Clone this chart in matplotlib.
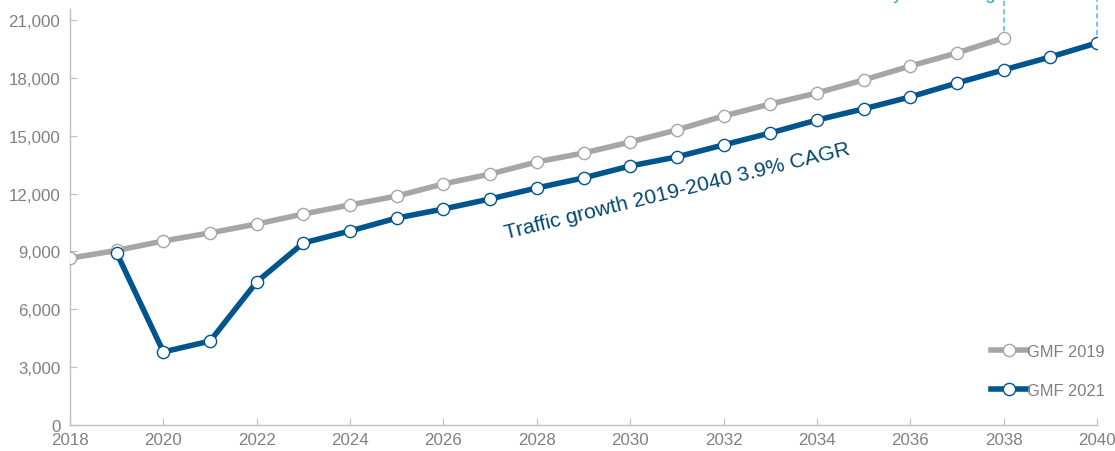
import matplotlib
matplotlib.use("Agg")
import matplotlib.pyplot as plt
from matplotlib.ticker import FuncFormatter

plt.rcParams['font.family'] = ['Liberation Sans', 'DejaVu Sans']

# data
years_2019 = list(range(2018, 2039))
gmf_2019 = [8650, 9050, 9540, 9960, 10420, 10940, 11410, 11870, 12500, 13010,
            13640, 14100, 14670, 15300, 16020, 16640, 17210, 17890, 18610,
            19290, 20070]

years_2021 = list(range(2019, 2041))
gmf_2021 = [8920, 3790, 4350, 7420, 9440, 10060, 10730, 11200, 11720, 12290,
            12810, 13430, 13900, 14520, 15140, 15810, 16390, 17010, 17730,
            18410, 19080, 19810]

grey = '#a6a6a6'
blue = '#00558c'
axis_grey = '#bfbfbf'
text_grey = '#808080'

fig = plt.figure(figsize=(11.15, 4.52), dpi=100)
ax = fig.add_axes([0.0628, 0.0575, 0.9211, 0.9205])

ax.plot(years_2019, gmf_2019, color=grey, lw=4.0, marker='o', ms=8.8,
        mfc='white', mec=grey, mew=1.0, label='GMF 2019', zorder=3)
ax.plot(years_2021, gmf_2021, color=blue, lw=4.0, marker='o', ms=8.8,
        mfc='white', mec=blue, mew=1.0, label='GMF 2021', zorder=4)

# dashed markers from the top of the picture
ax.plot([2038, 2038], [20450, 23000], color='#5bc0de', lw=1.2, ls=(0, (3, 2)),
        clip_on=False)
ax.plot([2040, 2040], [20200, 23000], color='#5bc0de', lw=1.2, ls=(0, (3, 2)),
        clip_on=False)
# caption above the chart, only its lowest part is visible
fig.text(0.8925, 1.003, 'Traffic delay in reaching', color='#1aa0c8',
         fontsize=13, ha='right', va='baseline')

ax.text(2031.0, 12150, 'Traffic growth 2019-2040 3.9% CAGR', color='#00466e',
        fontsize=15.2, rotation=13.8, rotation_mode='anchor',
        ha='center', va='center')

ax.set_xlim(2018, 2040)
ax.set_ylim(0, 21570)
ax.set_xticks(range(2018, 2041, 2))
ax.set_yticks(range(0, 21001, 3000))
ax.yaxis.set_major_formatter(FuncFormatter(lambda v, p: f'{int(v):,}'))

for s in ['top', 'right']:
    ax.spines[s].set_visible(False)
for s in ['left', 'bottom']:
    ax.spines[s].set_color(axis_grey)
    ax.spines[s].set_linewidth(1.0)
ax.tick_params(axis='both', direction='in', color=axis_grey, length=5,
               labelcolor=text_grey, labelsize=12.2)
ax.tick_params(axis='x', pad=5)
ax.tick_params(axis='y', pad=7)

leg = ax.legend(loc='lower right', bbox_to_anchor=(1.022, 0.03), frameon=False,
                fontsize=11.8, handlelength=2.2, handletextpad=0.0,
                labelspacing=1.45)
for t in leg.get_texts():
    t.set_color(text_grey)

fig.savefig('out.png', dpi=100)
